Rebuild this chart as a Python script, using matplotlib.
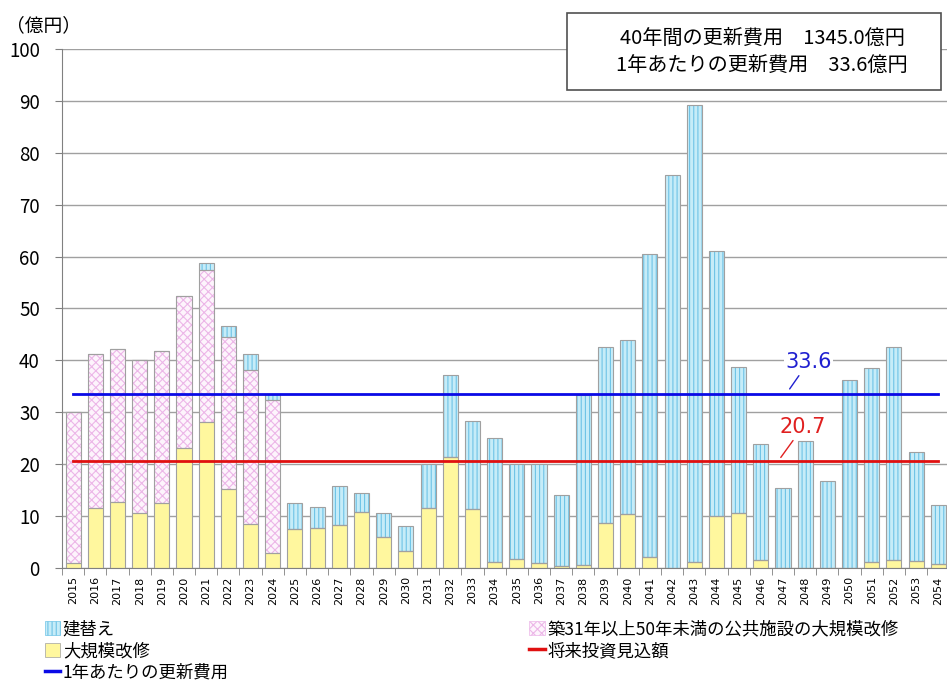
import numpy as np
import matplotlib
matplotlib.use("Agg")
import matplotlib.pyplot as plt
from matplotlib.patches import Patch, Rectangle
from matplotlib.lines import Line2D

plt.rcParams['font.family'] = ['Noto Sans CJK JP', 'DejaVu Sans']
plt.rcParams['hatch.linewidth'] = 0.8

# データ（億円）
years = [str(y) for y in range(2015, 2055)]
total = [30.0, 41.2, 42.2, 40.1, 41.9, 52.5, 58.7, 46.7, 41.2, 33.5,
         12.6, 11.7, 15.8, 14.4, 10.6, 8.1, 20.1, 37.2, 28.3, 25.1,
         20.1, 20.0, 14.0, 33.3, 42.5, 43.9, 60.5, 75.8, 89.2, 61.0,
         38.7, 23.8, 15.4, 24.4, 16.7, 36.2, 38.5, 42.6, 22.4, 12.2]
daikibo = [1.0, 11.6, 12.7, 10.6, 12.6, 23.2, 28.1, 15.3, 8.5, 2.9,
           7.5, 7.7, 8.3, 10.7, 6.0, 3.3, 11.5, 21.4, 11.3, 1.2,
           1.8, 1.0, 0.4, 0.6, 8.6, 10.5, 2.2, 0.0, 1.2, 10.1,
           10.6, 1.6, 0.0, 0.0, 0.0, 0.0, 1.2, 1.5, 1.3, 0.8]
chiku31 = [29.0, 29.6, 29.5, 29.5, 29.3, 29.3, 29.3, 29.2, 29.6, 29.5,
           0, 0, 0, 0, 0, 0, 0, 0, 0, 0,
           0, 0, 0, 0, 0, 0, 0, 0, 0, 0,
           0, 0, 0, 0, 0, 0, 0, 0, 0, 0]
avg_koshin = 33.6
mikomi = 20.7

daikibo = np.array(daikibo)
chiku31 = np.array(chiku31)
tatekae = np.array(total) - daikibo - chiku31

fig = plt.figure(figsize=(9.47, 6.8), dpi=100)
ax = fig.add_axes([0.0655, 0.1647, 0.937, 0.7633])

x = np.arange(len(years))
w = 0.68
edge = '#a0a0a0'


def hbar(bottom, h, fc, hc, hatch):
    # 塗り＋ハッチ、その後に枠線
    ax.bar(x, h, w, bottom=bottom, color=fc, edgecolor=hc, hatch=hatch, lw=0, zorder=2)
    ax.bar(x, h, w, bottom=bottom, fill=False, edgecolor=edge, lw=0.8, zorder=3)


hbar(0, daikibo, '#fff79e', '#fff79e', None)
hbar(daikibo, chiku31, '#fdf4fc', '#ecb6e8', 'xxxx')
hbar(daikibo + chiku31, tatekae, '#c6ecf8', '#6ec3e6', '||||')

ax.plot([x[0], x[-1]], [mikomi, mikomi], color='#e01010', lw=2, zorder=4)
ax.plot([x[0], x[-1]], [avg_koshin, avg_koshin], color='#0a0ae6', lw=2, zorder=4)

ax.annotate(f'{avg_koshin}', xy=(32.3, 34.5), xytext=(33.15, 39.7), ha='center', va='center',
            fontsize=15, color='#2020d0', family='DejaVu Sans',
            bbox=dict(fc='white', ec='none', pad=1),
            arrowprops=dict(arrowstyle='-', color='#2020d0', lw=1, shrinkA=2, shrinkB=0), zorder=5)
ax.annotate(f'{mikomi}', xy=(31.9, 21.3), xytext=(32.9, 27.2), ha='center', va='center',
            fontsize=15, color='#e02020', family='DejaVu Sans',
            bbox=dict(fc='white', ec='none', pad=1),
            arrowprops=dict(arrowstyle='-', color='#e02020', lw=1, shrinkA=2, shrinkB=0), zorder=5)

ax.set_xlim(-0.5, len(years) - 0.5)
ax.set_ylim(0, 100)
ax.set_yticks(range(0, 101, 10))
ax.yaxis.grid(True, color='#a0a0a0', lw=1)
ax.set_axisbelow(True)
ax.set_xticks(x)
ax.set_xticklabels(years, rotation=90, fontsize=8, family='DejaVu Sans')
ax.set_xticks(np.arange(-0.5, len(years), 1), minor=True)
ax.tick_params(axis='x', which='major', length=0, pad=6)
ax.tick_params(axis='x', which='minor', length=5, color='#808080')
ax.tick_params(axis='y', length=5, color='#808080', pad=11, labelsize=13.5)
for s in ['top', 'right']:
    ax.spines[s].set_visible(False)
for s in ['left', 'bottom']:
    ax.spines[s].set_color('#808080')

fig.text(0.006, 0.962, '（億円）', fontsize=13.5, ha='left', va='center')

# 右上の枠
fig.patches.append(Rectangle((567 / 947, 1 - 90 / 680), 374 / 947, 77 / 680,
                             transform=fig.transFigure, fill=True, fc='white',
                             ec='#505050', lw=1.2))
fig.text(762 / 947, 1 - 38 / 680, '40年間の更新費用　1345.0億円', fontsize=14.5, ha='center', va='center')
fig.text(762 / 947, 1 - 65 / 680, '1年あたりの更新費用　33.6億円', fontsize=14.5, ha='center', va='center')

handles = [
    Patch(fc='#c6ecf8', ec='#6ec3e6', hatch='||||', lw=0.5),
    Patch(fc='#fff79e', ec='#a0a0a0', lw=0.5),
    Line2D([], [], color='#0a0ae6', lw=2.5),
    Patch(fc='#fdf4fc', ec='#ecb6e8', hatch='xxxx', lw=0.5),
    Line2D([], [], color='#e01010', lw=2.5),
]
labels = ['建替え', '大規模改修', '1年あたりの更新費用',
          '築31年以上50年未満の公共施設の大規模改修', '将来投資見込額']
fig.legend(handles, labels, loc='upper left', bbox_to_anchor=(0.047, 0.088),
           ncol=2, frameon=False, fontsize=12.5, handlelength=0.9, handleheight=0.9,
           handletextpad=0.15, labelspacing=0.22, columnspacing=17.3, borderpad=0,
           borderaxespad=0)

fig.savefig('out.png', dpi=100)
